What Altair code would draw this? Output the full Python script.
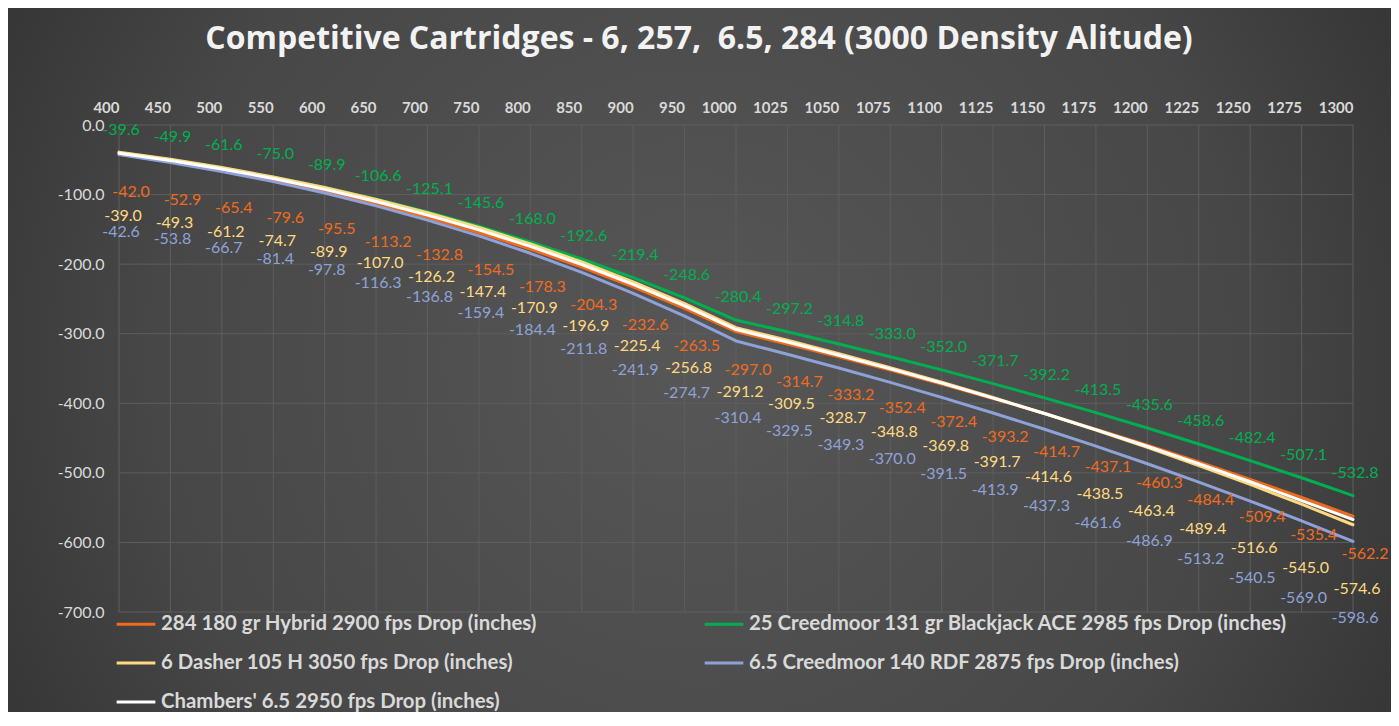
import altair as alt
import pandas as pd

distances = ["400", "450", "500", "550", "600", "650", "700", "750", "800", "850", "900", "950",
             "1000", "1025", "1050", "1075", "1100", "1125", "1150", "1175", "1200", "1225",
             "1250", "1275", "1300"]

s284 = [-42.0, -52.9, -65.4, -79.6, -95.5, -113.2, -132.8, -154.5, -178.3, -204.3, -232.6, -263.5,
        -297.0, -314.7, -333.2, -352.4, -372.4, -393.2, -414.7, -437.1, -460.3, -484.4, -509.4,
        -535.4, -562.2]
s25cm = [-39.6, -49.9, -61.6, -75.0, -89.9, -106.6, -125.1, -145.6, -168.0, -192.6, -219.4, -248.6,
         -280.4, -297.2, -314.8, -333.0, -352.0, -371.7, -392.2, -413.5, -435.6, -458.6, -482.4,
         -507.1, -532.8]
s6dasher = [-39.0, -49.3, -61.2, -74.7, -89.9, -107.0, -126.2, -147.4, -170.9, -196.9, -225.4, -256.8,
            -291.2, -309.5, -328.7, -348.8, -369.8, -391.7, -414.6, -438.5, -463.4, -489.4, -516.6,
            -545.0, -574.6]
s65cm = [-42.6, -53.8, -66.7, -81.4, -97.8, -116.3, -136.8, -159.4, -184.4, -211.8, -241.9, -274.7,
         -310.4, -329.5, -349.3, -370.0, -391.5, -413.9, -437.3, -461.6, -486.9, -513.2, -540.5,
         -569.0, -598.6]
# unlabeled in the source; estimated from the drawn line
schambers = [-40.5, -51.0, -63.2, -77.0, -92.5, -110.0, -129.5, -150.8, -174.5, -200.5, -229.0, -260.0,
             -294.0, -312.0, -331.0, -350.5, -371.0, -392.5, -414.7, -437.8, -461.8, -486.8, -512.8,
             -539.8, -567.0]

y_ticks = [0, -100, -200, -300, -400, -500, -600, -700]

names = ["284 180 gr Hybrid 2900 fps Drop (inches)",
         "25 Creedmoor 131 gr Blackjack ACE 2985 fps Drop (inches)",
         "6 Dasher 105 H 3050 fps Drop (inches)",
         "6.5 Creedmoor 140 RDF 2875 fps Drop (inches)",
         "Chambers' 6.5 2950 fps Drop (inches)"]
colors = ["#F26B1D", "#00B050", "#FFD980", "#8EA2D8", "#FFFFFF"]
widths = [3, 3, 3, 3, 1.5]
draw_order = [3, 1, 2, 0, 4]

title_text = "Competitive Cartridges - 6, 257,\u00a0 6.5, 284 (3000 Density Alitude)"

series = [s284, s25cm, s6dasher, s65cm, schambers]
rows = []
for i, (nm, vals) in enumerate(zip(names, series)):
    for d, v in zip(distances, vals):
        rows.append({"dist": d, "drop": v, "series": nm, "order": draw_order[i],
                     "label": f"{v:.1f}"})
df = pd.DataFrame(rows)

W, H = 1234, 487
PL, PT, PR, PB = 111, 117, 38, 100
GRID = "#5E5E5E"

xscale = alt.Scale(type="point", padding=0)
yscale = alt.Scale(domain=[-700, 0], nice=False, zero=False)

x = alt.X("dist:O", sort=distances, scale=xscale,
          axis=alt.Axis(orient="top", title=None, labelAngle=0, labelFont="Lato", labelFontSize=15,
                        labelFontWeight="bold", labelColor="#D9D9D9", labelPadding=18,
                        grid=False, domain=False, ticks=False, zindex=1))
y = alt.Y("drop:Q", scale=yscale,
          axis=alt.Axis(title=None, values=y_ticks, format=".1f",
                        labelFont="Lato", labelFontSize=16, labelColor="#D9D9D9", labelPadding=15,
                        grid=False, domain=False, ticks=False, zindex=1))

bg = alt.Chart(pd.DataFrame({"a": [0]})).mark_rect(
    clip=False,
    color={"gradient": "radial",
           "x1": 0.5, "y1": 0.5, "r1": 0,
           "x2": 0.5, "y2": 0.5, "r2": 0.72,
           "stops": [{"offset": 0, "color": "#575757"},
                     {"offset": 0.55, "color": "#474747"},
                     {"offset": 1, "color": "#262626"}]}
).encode(x=alt.value(-PL), x2=alt.value(W + PR), y=alt.value(-PT), y2=alt.value(H + PB))

hgrid = alt.Chart(pd.DataFrame({"drop": y_ticks})).mark_rule(color=GRID, strokeWidth=1).encode(
    y=alt.Y("drop:Q", scale=yscale), x=alt.value(0), x2=alt.value(W))
vgrid = alt.Chart(pd.DataFrame({"dist": distances})).mark_rule(color=GRID, strokeWidth=1).encode(
    x=alt.X("dist:O", sort=distances, scale=xscale), y=alt.value(0), y2=alt.value(H))

lines = alt.Chart(df).mark_line(strokeCap="round", strokeJoin="round").encode(
    x=x, y=y,
    color=alt.Color("series:N", title=None,
                    scale=alt.Scale(domain=names, range=colors),
                    sort=names),
    strokeWidth=alt.StrokeWidth("series:N", title=None,
                                scale=alt.Scale(domain=names, range=widths),
                                sort=names),
    detail="series:N",
    order=alt.Order("order:Q"),
)

label_cfg = [(0, 12, 38), (1, 2, -23), (2, 4, 64), (3, 2, 77)]
texts = []
for idx, dx, dy in label_cfg:
    t = alt.Chart(df).transform_filter(alt.datum.series == names[idx]).mark_text(
        dx=dx, dy=dy, font="Lato", fontSize=16, color=colors[idx], baseline="middle", align="center"
    ).encode(
        x=alt.X("dist:O", sort=distances, scale=xscale),
        y=alt.Y("drop:Q", scale=yscale),
        text=alt.Text("label:N"),
    )
    texts.append(t)

chart = alt.layer(bg, hgrid, vgrid, lines, *texts).properties(
    width=W, height=H,
    title=alt.TitleParams(title_text,
                          font="Open Sans", fontSize=32, fontWeight="bold", color="#F2F2F2",
                          anchor="middle", frame="group", offset=-48, dx=-37, zindex=1),
    autosize=alt.AutoSizeParams(type="none"),
    padding={"left": PL, "top": PT, "right": PR, "bottom": PB},
).configure(
    background="#3A3A3A",
    locale={"number": {"decimal": ".", "thousands": ",", "grouping": [3],
                       "currency": ["$", ""], "minus": "-"}},
).configure_view(stroke=None).configure_legend(
    orient="none", legendX=-4, legendY=478, columns=2, columnPadding=161, rowPadding=7,
    direction="horizontal",
    labelFont="Lato", labelFontSize=20.4, labelFontWeight="bold", labelColor="#D9D9D9",
    labelLimit=700, symbolType="stroke", symbolSize=1500, labelOffset=4, padding=0,
    title=None, zindex=1
)

chart.save("out.html", embed_options={"renderer": "svg", "actions": False})
